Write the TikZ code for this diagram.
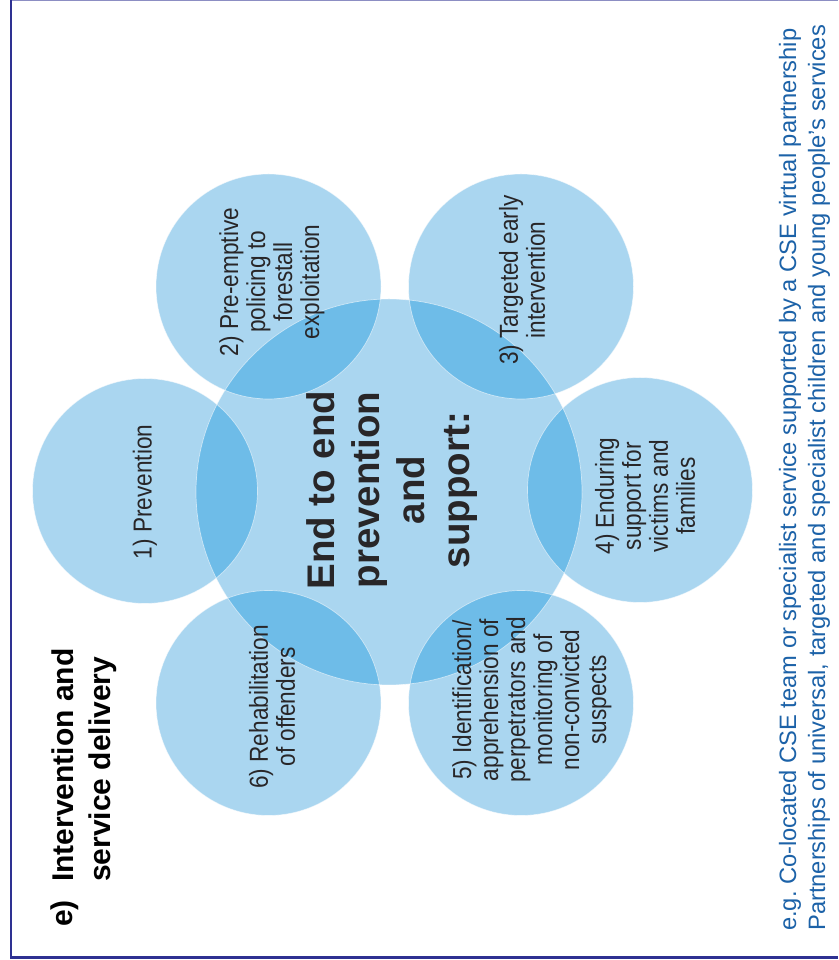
\documentclass[tikz,border=0pt]{standalone}
\usepackage{fontspec}
\setmainfont{Liberation Sans}
\newfontfamily\circfont[FakeStretch=0.87]{Liberation Sans}
\definecolor{lightblue}{RGB}{170,214,240}
\definecolor{overlapblue}{RGB}{110,188,232}
\definecolor{framecol}{RGB}{46,49,146}
\definecolor{notecol}{RGB}{28,98,168}
\definecolor{txtcol}{RGB}{40,38,40}
\frenchspacing
\begin{document}
\begin{tikzpicture}[x=1pt,y=1pt,
  bubble/.style={circle, fill=lightblue, inner sep=0pt, minimum size=225pt},
  hub/.style={circle, fill=lightblue, inner sep=0pt, minimum size=386pt},
  rim/.style={draw=white, draw opacity=0.55, line width=0.7pt},
  circtext/.style={rotate=90, align=center, inner sep=0pt, text=txtcol,
    font=\circfont\fontsize{26}{27}\selectfont},
  hubtext/.style={rotate=90, align=center, inner sep=0pt, text=txtcol,
    font=\bfseries\fontsize{38.5}{45}\selectfont},
  titletext/.style={rotate=90, align=left, inner sep=0pt, text=black,
    font=\bfseries\fontsize{30}{37}\selectfont},
  notetext/.style={rotate=90, anchor=base west, inner sep=0pt, text=notecol,
    font=\fontsize{23.7}{29}\selectfont}
]
\useasboundingbox (0,0) rectangle (838,960);
\fill[white] (0,0) rectangle (838,960);
% frame
\draw[framecol!55, line width=1.5pt] (11,959.3) -- (838,959.3);
\draw[framecol, line width=2.8pt] (11,960) -- (11,2.7) -- (838,2.7);
% circles
\node[hub] (c0) at (389,468) {};
\node[bubble] (c1) at (145,469) {};
\node[bubble] (c2) at (268.5,673.5) {};
\node[bubble] (c3) at (521,673.5) {};
\node[bubble] (c4) at (640,470) {};
\node[bubble] (c5) at (521,257) {};
\node[bubble] (c6) at (268.5,257) {};
% overlaps
\begin{scope}
  \clip (c0.center) circle (193pt);
  \foreach \c in {c1,c2,c3,c4,c5,c6}
    \fill[overlapblue] (\c.center) circle (112.5pt);
\end{scope}
% rims
\foreach \c in {c1,c2,c3,c4,c5,c6}
  \draw[rim] (\c.center) circle (112.5pt);
\draw[rim] (c0.center) circle (193pt);
% texts
\node[hubtext] (t0) at (392,470) {End to end\\prevention\\and\\support:};
\node[circtext] (t1) at (145,468) {1) Prevention};
\node[circtext] (t2) at (272,678) {2) Pre-emptive\\policing to\\forestall\\exploitation};
\node[circtext] (t3) at (522,680) {3) Targeted early\\intervention};
\node[circtext] (t4) at (645,464) {4) Enduring\\support for\\victims and\\families};
\node[circtext] (t5) at (532,260) {5) Identification/\\apprehension of\\perpetrators and\\monitoring of\\non-convicted\\suspects};
\node[circtext] (t6) at (272,253) {6) Rehabilitation\\of offenders};
% title
\node[titletext, anchor=north west] (tl) at (51,33) {e)};
\node[titletext, anchor=north west] (title) at (52,78) {Intervention and\\service delivery};
% notes
\node[notetext] (n1) at (796,29) {e.g. Co-located CSE team or specialist service supported by a CSE virtual partnership};
\node[notetext] (n2) at (825,29) {Partnerships of universal, targeted and specialist children and young people’s services};
\end{tikzpicture}
\end{document}
